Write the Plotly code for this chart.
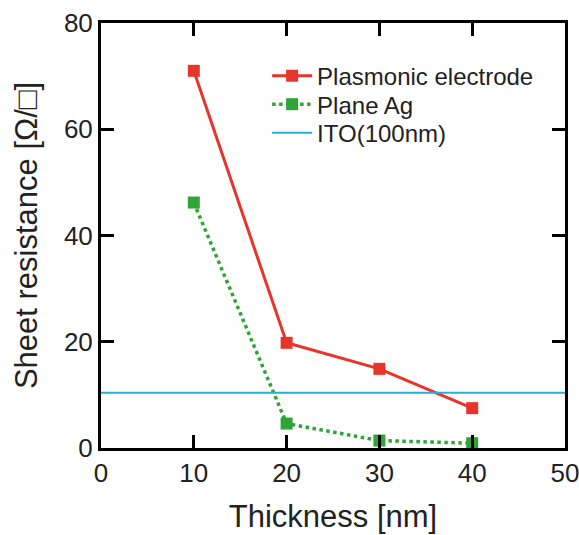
import plotly.graph_objects as go

thickness = [10, 20, 30, 40]
plasmonic = [71.0, 19.8, 14.9, 7.5]
plane_ag = [46.2, 4.6, 1.4, 0.9]
ito_value = 10.4
ito_x = [0, 50]

red = "#e8352b"
green = "#2fa535"
cyan = "#21b2d8"
FONT = "Liberation Sans, Arial, sans-serif"

fig = go.Figure()
fig.add_trace(go.Scatter(
    x=thickness, y=plasmonic, name="Plasmonic electrode",
    mode="lines+markers", legend="legend",
    line=dict(color=red, width=3),
    marker=dict(symbol="square", size=12, color=red),
))
fig.add_trace(go.Scatter(
    x=thickness, y=plane_ag, name="Plane Ag",
    mode="lines+markers", legend="legend2",
    line=dict(color=green, width=3.5, dash="dot"),
    marker=dict(symbol="square", size=12, color=green),
))
fig.add_trace(go.Scatter(
    x=ito_x, y=[ito_value, ito_value], name="ITO(100nm)",
    mode="lines", legend="legend3",
    line=dict(color=cyan, width=2),
))

axis_common = dict(
    showline=True, linecolor="black", linewidth=3, mirror="ticks",
    ticks="inside", ticklen=13, tickwidth=3, tickcolor="black",
    showgrid=False, zeroline=False, automargin=False,
    ticklabeloverflow="allow",
    tickfont=dict(family=FONT, size=26, color="#222"),
)

leg_common = dict(xanchor="left", yanchor="middle", font=dict(size=24, family=FONT, color="#222"),
                  bgcolor="rgba(0,0,0,0)", itemwidth=40)

fig.update_layout(
    width=579, height=535,
    margin=dict(l=101, r=14, t=23, b=87),
    paper_bgcolor="white", plot_bgcolor="white",
    font=dict(family=FONT, color="#222"),
    xaxis=dict(range=[0, 50], tickvals=[0, 10, 20, 30, 40, 50],
               title=dict(text="Thickness [nm]", font=dict(size=31), standoff=19),
               **axis_common),
    yaxis=dict(range=[0, 80], tickvals=[0, 20, 40, 60, 80],
               title=dict(text="Sheet resistance [Ω/□]", font=dict(size=31), standoff=18),
               **axis_common),
    legend=dict(x=0.358, y=0.875, **leg_common),
    legend2=dict(x=0.358, y=0.808, **leg_common),
    legend3=dict(x=0.358, y=0.741, **leg_common),
    showlegend=True,
)

fig.write_html("out.html", config={"displayModeBar": False},
               post_script="document.body.style.margin='0';")
